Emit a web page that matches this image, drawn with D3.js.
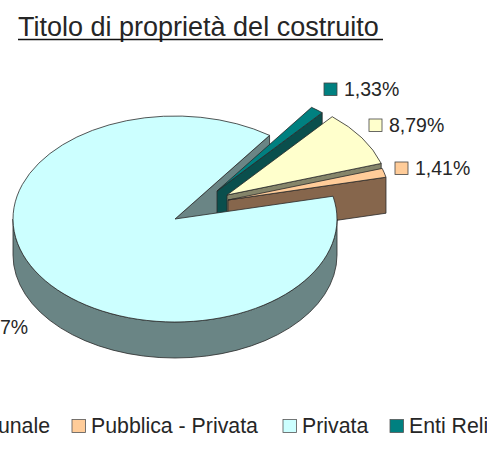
<!DOCTYPE html>
<html>
<head>
<meta charset="utf-8">
<script src="https://cdn.jsdelivr.net/npm/d3@7"></script>
<style>
  html, body { margin: 0; padding: 0; background: #fff; overflow: hidden; }
  text { font-family: "Liberation Sans", Arial, sans-serif; fill: #262626; }
</style>
</head>
<body>
<svg id="chart" width="487" height="450"></svg>
<script>
// dati
var categories = ["Comunale", "Pubblica - Privata", "Privata", "Enti Religiosi"];
var values = [8.79, 1.41, 88.47, 1.33];
var labels = ["8,79%", "1,41%", "88,47%", "1,33%"];
var topColors = ["#ffffcc", "#ffcc99", "#ccffff", "#008080"];
var sideColors = ["#85856a", "#86664c", "#6a8585", "#0a4f4d"];

var svg = d3.select("#chart");
var toRad = Math.PI / 180;

// layout: centro di ogni fetta (esplosa) e geometria dell'ellisse
var rx = 162, ry = 103, depth = 36;
var centers = [[227, 195], [228, 200], [175, 219], [217, 191]];
var labelKeys = [[369, 119], [395, 162], [-58, 321], [324, 83]];
var legendKeys = [-22, 72, 283, 390];

var pie = d3.pie().sort(null).value(d => d)
    .startAngle(40.5 * toRad).endAngle(400.5 * toRad);
var arcs = pie(values);
var arc = d3.arc().innerRadius(0).outerRadius(rx);

function pt(i, a, dy) {
    return [centers[i][0] + rx * Math.sin(a), centers[i][1] - ry * Math.cos(a) + (dy || 0)];
}

// faccia di taglio alla fine della fetta
function cutFace(i) {
    var a = arcs[i].endAngle;
    var c = centers[i];
    var p = pt(i, a);
    return "M" + c + "L" + p + "L" + pt(i, a, depth) + "L" + [c[0], c[1] + depth] + "Z";
}

// parete esterna: solo la metà davanti si vede
function wall(i) {
    var a0 = Math.PI / 2, a1 = Math.PI * 1.5;
    return "M" + pt(i, a0) + "A" + rx + " " + ry + " 0 0 1 " + pt(i, a1) +
        "L" + pt(i, a1, depth) + "A" + rx + " " + ry + " 0 0 0 " + pt(i, a0, depth) + "Z";
}

function drawTop(i) {
    svg.append("path")
        .attr("d", arc(arcs[i]))
        .attr("transform", "translate(" + centers[i] + ") scale(1," + (ry / rx) + ")")
        .attr("vector-effect", "non-scaling-stroke")
        .attr("fill", topColors[i])
        .attr("stroke", "#2a2a2a")
        .attr("stroke-width", 0.8);
}

function drawSide(d, i) {
    svg.append("path")
        .attr("d", d)
        .attr("fill", sideColors[i])
        .attr("stroke", "#2a2a2a")
        .attr("stroke-width", 0.8);
}

// prima il taglio della Privata, poi le fette staccate, infine la Privata sopra
drawSide(cutFace(2), 2);
[3, 0, 1].forEach(function (i) {
    drawSide(cutFace(i), i);
    drawTop(i);
});
drawSide(wall(2), 2);
drawTop(2);

// titolo
svg.append("text")
    .attr("x", 18)
    .attr("y", 36)
    .attr("font-size", 27)
    .text("Titolo di proprietà del costruito");
svg.append("line")
    .attr("x1", 18).attr("x2", 383)
    .attr("y1", 39.5).attr("y2", 39.5)
    .attr("stroke", "#111")
    .attr("stroke-width", 1.6);

// etichette con chiave
labels.forEach(function (t, i) {
    var k = labelKeys[i];
    svg.append("rect")
        .attr("x", k[0]).attr("y", k[1])
        .attr("width", 13).attr("height", 12.5)
        .attr("fill", topColors[i])
        .attr("stroke", "#444")
        .attr("stroke-width", 0.8);
    svg.append("text")
        .attr("x", k[0] + 20)
        .attr("y", k[1] + 13)
        .attr("font-size", 19.5)
        .text(t);
});

// legenda
categories.forEach(function (t, i) {
    var x = legendKeys[i];
    svg.append("rect")
        .attr("x", x).attr("y", 419.5)
        .attr("width", 13.5).attr("height", 13)
        .attr("fill", topColors[i])
        .attr("stroke", "#555")
        .attr("stroke-width", 0.8);
    svg.append("text")
        .attr("x", i == 0 ? 50 : x + 19)
        .attr("y", 433)
        .attr("text-anchor", i == 0 ? "end" : "start")
        .attr("font-size", 21.3)
        .text(t);
});
</script>
</body>
</html>
